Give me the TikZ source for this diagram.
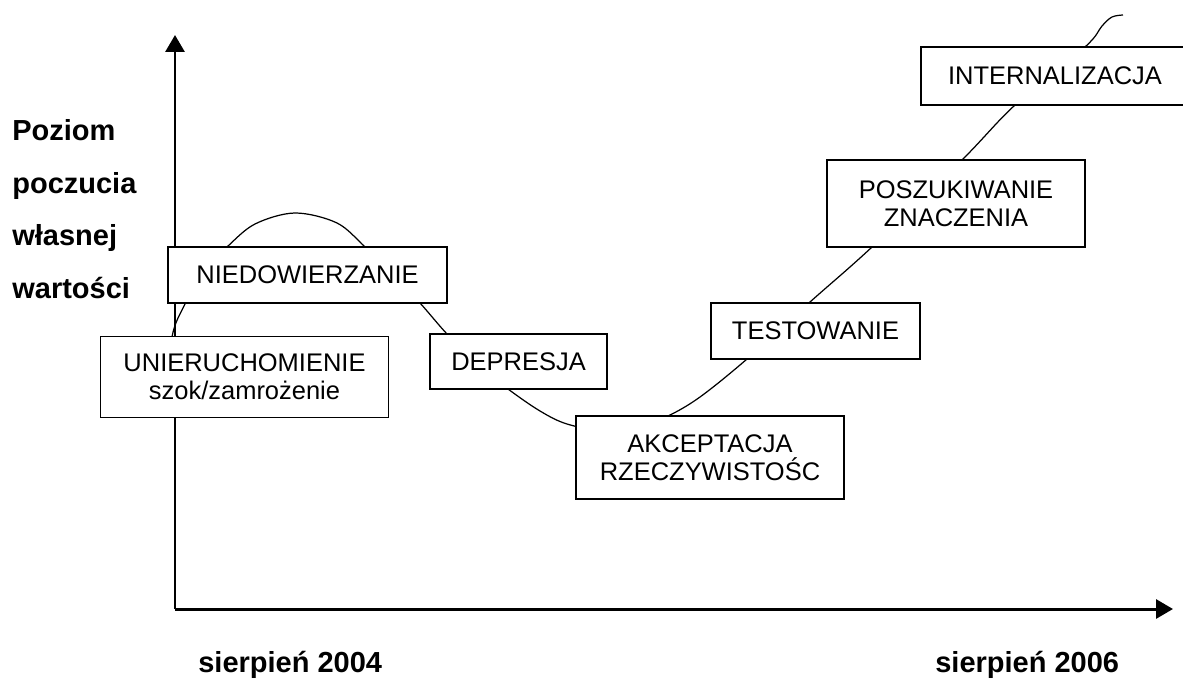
\documentclass[tikz,border=0pt]{standalone}
\usepackage{fontspec}
\setmainfont{Liberation Sans}
\usetikzlibrary{arrows.meta, positioning}

\newcommand{\boxfont}{\fontsize{14.5}{16}\selectfont}
\newcommand{\labfont}{\fontsize{16.5}{18}\selectfont\bfseries}

\begin{document}
\begin{tikzpicture}[x=0.02cm, y=-0.02cm,
  stage/.style={draw, fill=white, line width=0.85pt, font=\boxfont, align=center, inner sep=0pt},
  axis/.style={line width=1.7pt, -{Triangle[length=3.4mm,width=3.8mm]}},
  curve/.style={line width=0.7pt},
  lab/.style={font=\labfont, anchor=base west, inner sep=0pt}]
\clip (0,0) rectangle (1183,683);

% axes
\coordinate (origin) at (175,609);
\coordinate (ytip) at (175,35);
\coordinate (xtip) at (1173,609);
\draw[axis] (origin) -- (ytip);
\draw[axis] (origin) -- (xtip);

% the curve, behind the boxes
\draw[curve] plot[smooth, tension=0.55] coordinates {
  (168,400) (172,337) (185,304) (203,272) (227,247) (255,224) (295,213)
  (337,223) (365,247) (393,275) (420,303) (447,334) (478,365) (508,389)
  (540,411) (567,424) (605,431) (640,426) (668,416) (700,397) (747,359)
  (810,302) (872,247) (962,160) (1015,105) (1085,47) (1102,26) (1112,17) (1123,15)};

% stages
\node[stage, minimum width=5.76cm, minimum height=1.62cm] (unier) at (244.5,377)
  {UNIERUCHOMIENIE\\szok/zamrożenie};
\node[stage, minimum width=5.58cm, minimum height=1.12cm] (niedo) at (307.5,275)
  {NIEDOWIERZANIE};
\node[stage, minimum width=3.54cm, minimum height=1.10cm] (depr) at (518.5,361.5)
  {DEPRESJA};
\node[stage, minimum width=5.36cm, minimum height=1.66cm] (akcept) at (710,457.5)
  {AKCEPTACJA\\RZECZYWISTOŚC};
\node[stage, minimum width=4.18cm, minimum height=1.12cm] (test) at (815.5,331)
  {TESTOWANIE};
\node[stage, minimum width=5.16cm, minimum height=1.74cm] (poszuk) at (956,203.5)
  {POSZUKIWANIE\\ZNACZENIA};
\node[stage, minimum width=5.36cm, minimum height=1.16cm] (intern) at (1055,76)
  {INTERNALIZACJA};

% axis labels
\foreach \word/\yy [count=\i] in {Poziom/140, poczucia/193, własnej/245, wartości/298}
  \node[lab] (ylab\i) at (12,\yy) {\word};
\node[lab] (tstart) at (198,672) {sierpień 2004};
\node[lab] (tend) at (935,672) {sierpień 2006};
\end{tikzpicture}
\end{document}
